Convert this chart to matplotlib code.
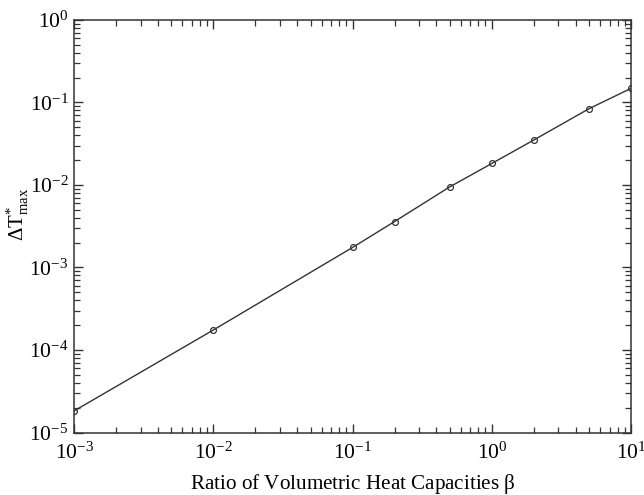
import matplotlib
matplotlib.use("Agg")
import matplotlib.pyplot as plt
import numpy as np

# ratio of volumetric heat capacities and max temperature rise
beta = [0.001, 0.01, 0.1, 0.2, 0.5, 1.0, 2.0, 5.0, 10.0]
dT_max = [1.83e-5, 1.75e-4, 1.75e-3, 3.6e-3, 9.5e-3, 1.82e-2, 3.5e-2, 8.4e-2, 1.48e-1]

plt.rcParams['font.family'] = ['Liberation Serif', 'DejaVu Serif']
plt.rcParams['mathtext.fontset'] = 'custom'
plt.rcParams['mathtext.rm'] = 'Liberation Serif'
plt.rcParams['mathtext.it'] = 'Liberation Serif:italic'
plt.rcParams['mathtext.bf'] = 'Liberation Serif:bold'

dark = '#333333'

fig = plt.figure(figsize=(6.44, 4.95), dpi=100)
ax = fig.add_axes([0.115, 0.126, 0.865, 0.834])

ax.plot(beta, dT_max, color=dark, lw=1.0, marker='o', markersize=4.2,
        markerfacecolor='none', markeredgecolor=dark, markeredgewidth=0.9)

ax.set_xscale('log')
ax.set_yscale('log')
ax.set_xlim(1e-3, 1e1)
ax.set_ylim(1e-5, 1e0)

for s in ax.spines.values():
    s.set_color(dark)
    s.set_linewidth(1.1)

ax.tick_params(which='both', direction='in', top=True, right=True, colors=dark,
               labelcolor='black', labelsize=15.5)
ax.tick_params(which='major', length=6.5, width=1.0)
ax.tick_params(which='minor', length=4.3, width=0.9)
ax.tick_params(axis='x', which='major', pad=7)
ax.tick_params(axis='y', which='major', pad=4)

ax.set_xlabel(r'Ratio of Volumetric Heat Capacities $\mathrm{\beta}$', fontsize=15.2, labelpad=6)
ax.set_ylabel(r'$\mathrm{\Delta T^{*}_{max}}$', fontsize=15)
ax.yaxis.set_label_coords(-0.078, 0.53)

fig.savefig('out.png', dpi=100)
